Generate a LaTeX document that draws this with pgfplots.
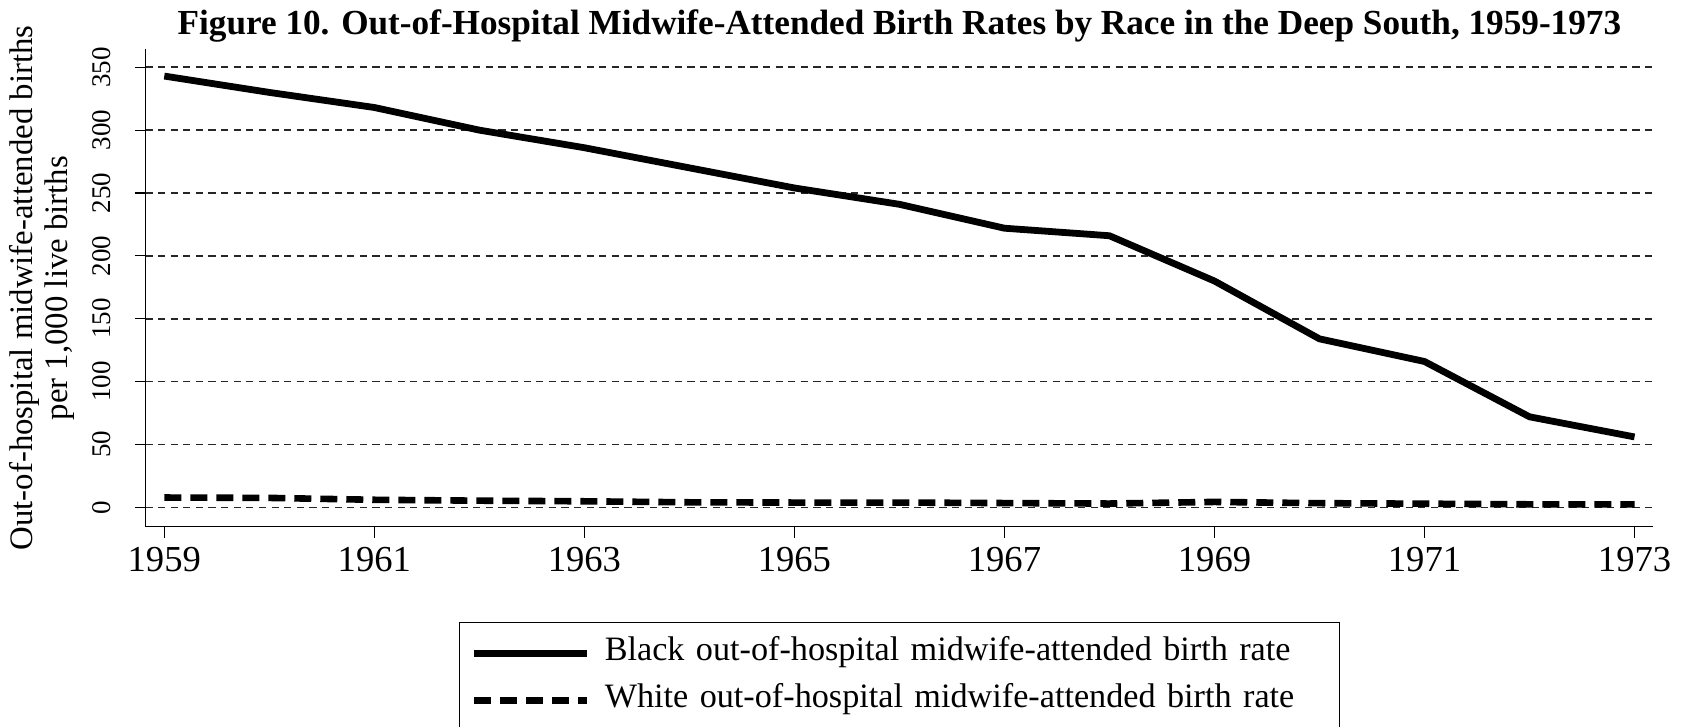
\documentclass[border=0pt]{standalone}
\usepackage{fontspec}
\setmainfont{Liberation Serif}
\usepackage{pgfplots}
\pgfplotsset{compat=1.18}
\begin{document}
\begin{tikzpicture}
\begin{axis}[
  at={(0,0)}, anchor=south west,
  scale only axis,
  width=753.9pt, height=238.7pt,
  xmin=1958.821, xmax=1973.179,
  ymin=-15.4, ymax=364.3,
  axis x line=bottom, axis y line=left,
  axis line style={-, line width=0.6pt},
  xtick={1959,1961,...,1973},
  ytick={0,50,...,350},
  tick align=outside,
  major tick length=5.5pt,
  every tick/.style={black, line width=0.6pt},
  ymajorgrids,
  major grid style={black!85, line width=0.8pt, dash pattern=on 3.6pt off 2.7pt},
  /pgf/number format/assume math mode=true,
  xticklabel style={/pgf/number format/1000 sep={}, font=\fontsize{18.3}{20}\selectfont, yshift=-1.5pt},
  yticklabel style={rotate=90, anchor=base, yshift=11.9pt, font=\fontsize{13.5}{15}\selectfont},
  ylabel={Out-of-hospital midwife-attended births\\per 1,000 live births},
  ylabel style={at={(axis description cs:0,0.5)}, anchor=center, yshift=51.75pt, align=center, font=\fontsize{16.4}{17.3}\selectfont},
  title={Figure 10. Out-of-Hospital Midwife-Attended Birth Rates by Race in the Deep South, 1959-1973},
  title style={at={(0.5,1)}, anchor=base, yshift=1.15pt, font=\fontsize{17.6}{20}\selectfont\bfseries},
  legend style={at={(0.5,0)}, anchor=north, yshift=-47.65pt, draw=black, line width=0.6pt,
    font=\fontsize{17.1}{21}\selectfont, inner xsep=5.5pt, inner ysep=6pt, row sep=4.5pt,
    cells={anchor=west},
    nodes={inner sep=0pt, text height=13pt, text depth=6pt, text width=361.8pt, align=left},
    /tikz/every odd column/.append style={column sep=7.3pt}},
  legend cell align=left,
  legend image code/.code={\draw[#1] (0pt,0pt) -- (56.5pt,0pt);},
]
\addplot[black, line width=3.4pt, line join=round] coordinates {
(1959,343) (1960,330) (1961,318) (1962,300) (1963,286) (1964,270) (1965,254)
(1966,241) (1967,222) (1968,216) (1969,180) (1970,134) (1971,116) (1972,72) (1973,56)};
\addlegendentry{Black out-of-hospital midwife-attended birth rate}
\addplot[black, line width=3.3pt, dash pattern=on 8.5pt off 4.5pt] coordinates {
(1959,7.8) (1960,7.5) (1961,6.0) (1962,5.3) (1963,4.8) (1964,4.0) (1965,3.8)
(1966,3.8) (1967,3.4) (1968,3.0) (1969,4.3) (1970,3.3) (1971,2.9) (1972,2.4) (1973,2.4)};
\addlegendentry{White out-of-hospital midwife-attended birth rate}
\end{axis}
\pgfresetboundingbox
\useasboundingbox (-72.75pt,-100.15pt) rectangle (772.25pt,263.35pt);
\end{tikzpicture}
\end{document}
